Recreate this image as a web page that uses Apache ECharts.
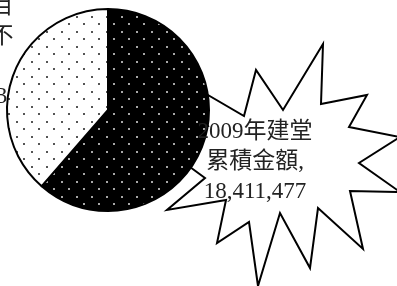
<!DOCTYPE html>
<html>
<head>
<meta charset="utf-8">
<script src="https://cdn.jsdelivr.net/npm/echarts@6/dist/echarts.min.js"></script>
<style>
    html, body { margin: 0; padding: 0; background: #fff; }
    #chart { width: 397px; height: 286px; }
</style>
</head>
<body>
<div id="chart"></div>
<script>
// slice names (line breaks as in the picture) and amounts
const categories = ['2009年建堂\n累積金額', '距建堂總目\n標金額尚不\n足額'];
const values = [18411477, 11574523];

// dotted fills, like the old office print patterns
function dotPattern(bg, dot) {
    const c = document.createElement('canvas');
    c.width = 15;
    c.height = 15;
    const ctx = c.getContext('2d');
    ctx.fillStyle = bg;
    ctx.fillRect(0, 0, 15, 15);
    ctx.fillStyle = dot;
    ctx.fillRect(1, 1, 2, 2);
    ctx.fillRect(8, 8, 2, 2);
    return { image: c, repeat: 'repeat' };
}
const fills = [dotPattern('#000', '#a8a8a8'), dotPattern('#fff', '#555')];

// where each label sits (callout / clipped one on the left)
const labelSpots = [
    { x: 255, y: 162 },
    { x: -44, y: 52 }
];

// starburst callout outline
const burst = [
    [160, 67], [244, 116], [256, 70], [283, 110], [323, 44], [321, 104],
    [367, 95], [349, 127], [400, 137], [359, 163], [400, 192], [350, 191],
    [363, 249], [318, 208], [310, 268], [280, 213], [258, 286], [249, 222],
    [217, 243], [226, 200], [167, 210], [205, 178], [160, 145], [208, 126]
];

const chart = echarts.init(document.getElementById('chart'));

const option = {
    animation: false,
    graphic: [{
        type: 'polygon',
        z: 0,
        shape: { points: burst },
        style: { fill: '#fff', stroke: '#000', lineWidth: 2 }
    }],
    series: [{
        type: 'pie',
        center: [108, 110],
        radius: 101,
        startAngle: 90,
        clockwise: true,
        avoidLabelOverlap: false,
        itemStyle: { borderColor: '#000', borderWidth: 2 },
        label: {
            show: true,
            position: 'outside',
            fontFamily: "'Liberation Serif', 'Noto Sans CJK TC'",
            fontSize: 23,
            lineHeight: 30,
            color: '#222',
            align: 'center',
            formatter: p => p.name + ',\n' + p.value.toLocaleString('en-US')
        },
        labelLine: { show: false },
        labelLayout: p => ({
            x: labelSpots[p.dataIndex].x,
            y: labelSpots[p.dataIndex].y,
            align: 'center',
            verticalAlign: 'middle'
        }),
        emphasis: { disabled: true },
        data: categories.map((name, i) => ({
            name: name,
            value: values[i],
            itemStyle: { color: fills[i] }
        }))
    }]
};

chart.setOption(option);
</script>
</body>
</html>
